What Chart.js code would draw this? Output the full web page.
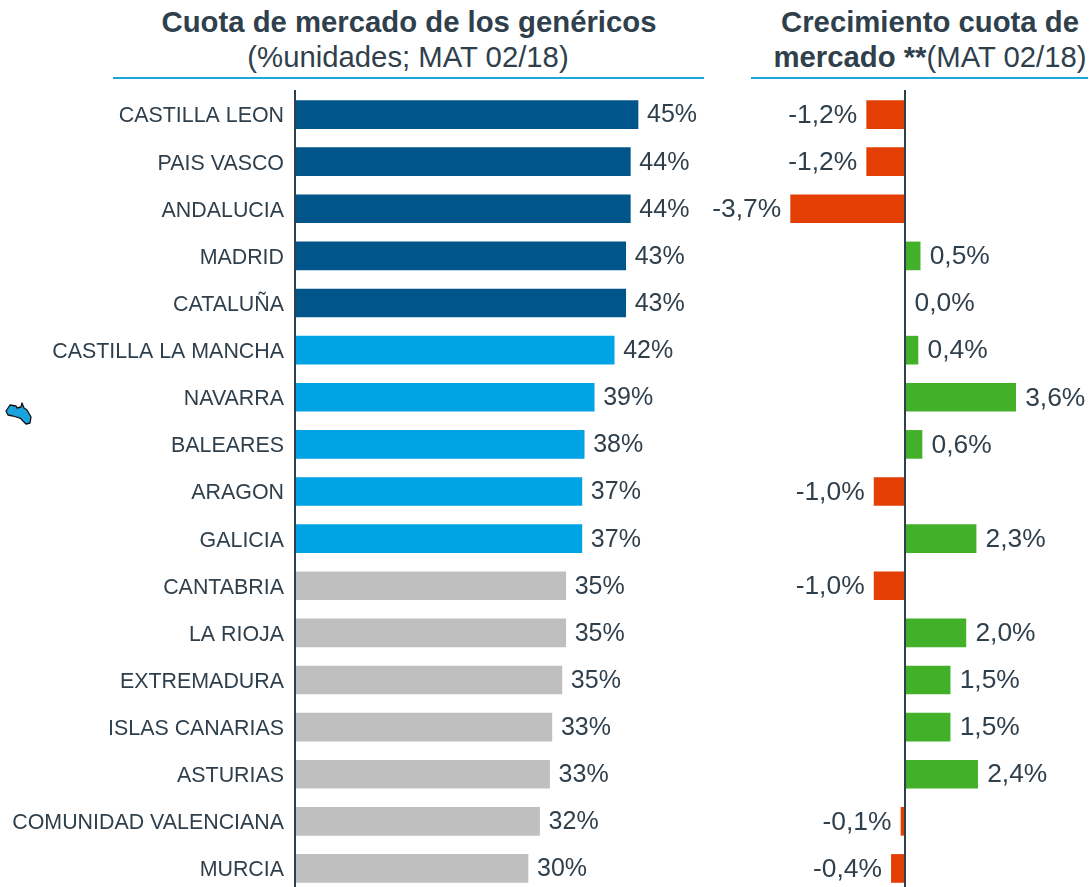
<!DOCTYPE html>
<html>
<head>
<meta charset="utf-8">
<script src="https://cdn.jsdelivr.net/npm/chart.js@4"></script>
<style>
	html, body { margin: 0; height: 887px; overflow: hidden; background: #fff; }
	body { position: relative; font-family: "Liberation Sans", Arial, sans-serif; color: #2f3f4c; }
	canvas { position: absolute; top: 0; }
	.line { position: absolute; white-space: nowrap; font-size: 29.3px; line-height: 32px; transform: translateX(-50%); }
	.rule { position: absolute; top: 77px; height: 2px; background: #1ba6dc; }
</style>
</head>
<body>
<div class="line" style="left:409px;top:6px"><b>Cuota de mercado de los genéricos</b></div>
<div class="line" style="left:408px;top:41px">(%unidades; MAT 02/18)</div>
<div class="rule" style="left:113px;width:591px"></div>
<div class="line" style="left:930px;top:6px"><b>Crecimiento cuota de</b></div>
<div class="line" style="left:930px;top:41px"><b>mercado **</b>(MAT 02/18)</div>
<div class="rule" style="left:751px;width:337px"></div>
<svg style="position:absolute;left:0;top:385px" width="40" height="50">
	<path d="M6 26L10 20L16 21L17 23L21 22L22 18L24 23L27 25L31 32L30 38L26 39L20 33L13 31L8 30Z" fill="#1ba3e0" stroke="#111" stroke-width="1.3" stroke-linejoin="round"/>
</svg>
<canvas id="shareChart" width="718" height="892" style="left:0"></canvas>
<canvas id="growthChart" width="408" height="892" style="left:701px"></canvas>
<script>
const regions = ['CASTILLA LEON','PAIS VASCO','ANDALUCIA','MADRID','CATALUÑA','CASTILLA LA MANCHA','NAVARRA','BALEARES','ARAGON','GALICIA','CANTABRIA','LA RIOJA','EXTREMADURA','ISLAS CANARIAS','ASTURIAS','COMUNIDAD VALENCIANA','MURCIA']
const shareValues = [44.6,43.6,43.6,43.0,43.0,41.5,38.9,37.6,37.3,37.3,35.2,35.2,34.7,33.4,33.1,31.8,30.3]
const growthValues = [-1.24,-1.24,-3.7,0.49,0,0.42,3.58,0.55,-1.0,2.3,-1.0,1.97,1.46,1.46,2.35,-0.13,-0.44]

const textColor = '#2f3f4c'

// no datalabels plugin here, so the value labels are drawn by hand
const valueLabels = {
	id: 'valueLabels',
	afterDatasetsDraw(chart, args, opts) {
		const ctx = chart.ctx
		const values = chart.data.datasets[0].data
		ctx.save()
		ctx.font = opts.size + 'px "Liberation Sans", Arial, sans-serif'
		ctx.fillStyle = textColor
		ctx.textBaseline = 'middle'
		chart.getDatasetMeta(0).data.forEach((bar, i) => {
			const negative = values[i] < 0
			ctx.textAlign = negative ? 'right' : 'left'
			ctx.fillText(opts.format(values[i]), bar.x + (negative ? -opts.gap : opts.gap), bar.y + 1)
		})
		ctx.restore()
	}
}

new Chart(document.getElementById('shareChart'), {
	type: 'bar',
	data: {
		labels: regions,
		datasets: [{
			data: shareValues,
			barThickness: 28,
			backgroundColor: ctx => ctx.dataIndex < 5 ? '#00568a' : ctx.dataIndex < 10 ? '#00a3e3' : '#bfbfbf'
		}]
	},
	plugins: [valueLabels],
	options: {
		indexAxis: 'y',
		responsive: false,
		animation: false,
		layout: { padding: { top: 91 } },
		plugins: {
			legend: { display: false },
			tooltip: { enabled: false },
			valueLabels: { size: 25, gap: 9, format: v => Math.round(v) + '%' }
		},
		scales: {
			x: { display: false, min: 0, max: 55 },
			y: {
				afterFit: scale => {
					scale.width = 295
					scale.paddingTop = 0
					scale.paddingBottom = 0
				},
				grid: { display: false, drawTicks: false },
				border: { color: textColor, width: 2, z: 1 },
				ticks: { color: textColor, padding: 11, autoSkip: false, labelOffset: 2, font: { size: 21.4, family: '"Liberation Sans", Arial, sans-serif' } }
			}
		}
	}
})

new Chart(document.getElementById('growthChart'), {
	type: 'bar',
	data: {
		labels: regions,
		datasets: [{
			data: growthValues,
			barThickness: 28,
			backgroundColor: ctx => ctx.raw < 0 ? '#e33f04' : '#43b02a'
		}]
	},
	plugins: [valueLabels],
	options: {
		indexAxis: 'y',
		responsive: false,
		animation: false,
		layout: { padding: { top: 91 } },
		plugins: {
			legend: { display: false },
			tooltip: { enabled: false },
			valueLabels: { size: 26.4, gap: 9.5, format: v => v.toFixed(1).replace('.', ',') + '%' }
		},
		scales: {
			x: { display: false, min: -6.6, max: 6.6 },
			y: {
				position: { x: 0 },
				grid: { display: false, drawTicks: false },
				border: { color: textColor, width: 2, z: 1 },
				ticks: { display: false }
			}
		}
	}
})
</script>
</body>
</html>
